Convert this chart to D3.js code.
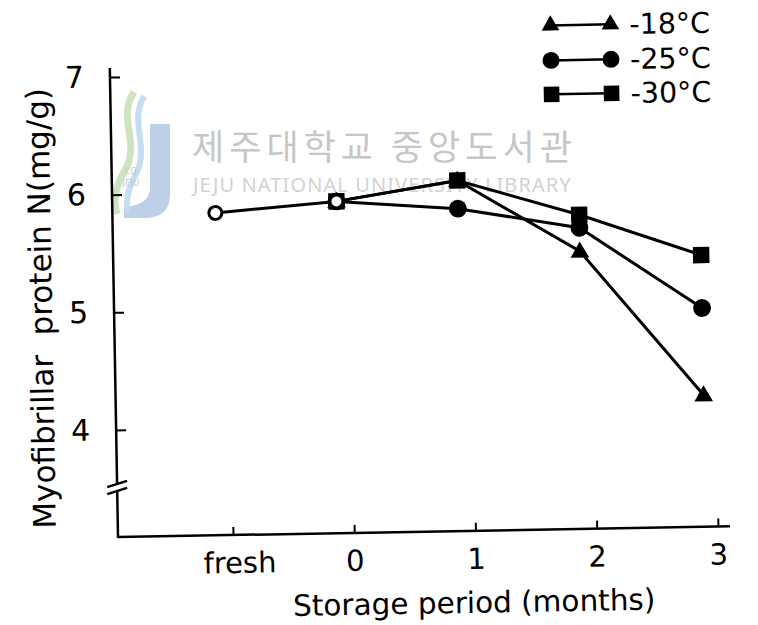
<!DOCTYPE html>
<html>
<head>
<meta charset="utf-8">
<script src="https://cdn.jsdelivr.net/npm/d3@7/dist/d3.min.js"></script>
<style>
  html, body { margin: 0; padding: 0; background: #fff; }
  svg { display: block; }
</style>
</head>
<body>
<svg id="chart" width="758" height="625"></svg>
<script>
// ---------------- data ----------------
const categories = ["fresh", "0", "1", "2", "3"];
const catPos = [-1, 0, 1, 2, 3];           // position on storage axis
const months = [0, 1, 2, 3];
const freshPos = [-1, 0];
const freshValues = [5.83, 5.91];           // open circles: fresh -> 0 month
const seriesNames = ["-18\u00B0C", "-25\u00B0C", "-30\u00B0C"];
const values18 = [5.91, 6.07, 5.45, 4.21];
const values25 = [5.91, 5.83, 5.65, 4.95];
const values30 = [5.91, 6.07, 5.76, 5.40];
const yTicks = [4, 5, 6, 7];
const yLabel = "Myofibrillar\u00A0\u00A0protein N(mg/g)";
const xLabel = "Storage period (months)";
const wmKorean = "제주대학교 중앙도서관";
const wmEnglish = "JEJU NATIONAL UNIVERSITY LIBRARY";

// ---------------- setup ----------------
const svg = d3.select("#chart");
const FONT = "'DejaVu Sans', sans-serif";

// watermark (behind everything, not rotated)
const wm = svg.append("g").attr("class", "watermark");
wm.append("path")
  .attr("d", "M150,124 L170,124 L170,194 Q170,218 144,218 L124,218 L124,207 Q150,205 150,188 Z")
  .attr("fill", "#b3c7e6").attr("opacity", 0.85);
wm.append("path")
  .attr("d", "M134,92 C116,120 142,142 124,172 C115,188 113,200 117,214")
  .attr("fill", "none").attr("stroke", "#c9e0b8").attr("stroke-width", 7).attr("opacity", 0.9);
wm.append("path")
  .attr("d", "M144,96 C128,124 152,148 134,178 C126,194 126,204 128,214")
  .attr("fill", "none").attr("stroke", "#bcdaf0").attr("stroke-width", 6).attr("opacity", 0.9);
wm.append("text").attr("x", 131).attr("y", 174).attr("font-family", "'Noto Sans', sans-serif")
  .attr("font-size", 9).attr("fill", "#c8c8c8").attr("text-anchor", "middle").text("CQ");
wm.append("text").attr("x", 131).attr("y", 186).attr("font-family", "'Noto Sans', sans-serif")
  .attr("font-size", 9).attr("fill", "#c8c8c8").attr("text-anchor", "middle").text("JEJU");
wm.append("text")
  .attr("x", 192).attr("y", 160)
  .attr("font-family", "'Noto Sans CJK KR', sans-serif")
  .attr("font-size", 35).attr("letter-spacing", 5).attr("fill", "#c6c6c6")
  .text(wmKorean);
wm.append("text")
  .attr("x", 193).attr("y", 192)
  .attr("font-family", "'Noto Sans', sans-serif")
  .attr("font-size", 20).attr("letter-spacing", 1.1).attr("fill", "#d2d2d2")
  .text(wmEnglish);

// chart group, slightly rotated like the scanned original
const g = svg.append("g").attr("transform", "rotate(-1, 118, 537)");

const x = d3.scaleLinear().domain([-1, 3]).range([221, 706]);
const y = d3.scaleLinear().domain([4, 7]).range([430, 77]);

const originX = 118, originY = 537;

// ---- x axis ----
const xAxis = d3.axisBottom(x)
  .tickValues(catPos)
  .tickFormat((d, i) => categories[i])
  .tickSize(-8)
  .tickPadding(0);
const gx = g.append("g")
  .attr("transform", `translate(12, ${originY})`)
  .call(xAxis);
gx.select(".domain").remove();
gx.selectAll(".tick line").attr("stroke", "#000").attr("stroke-width", 2);
gx.selectAll(".tick text")
  .attr("font-family", FONT).attr("font-size", 29).attr("fill", "#000")
  .attr("dy", null).attr("y", 38);
gx.selectAll(".tick text").filter((d, i) => i === 0).attr("x", 6);

g.append("line")
  .attr("x1", originX).attr("y1", originY).attr("x2", 730).attr("y2", originY)
  .attr("stroke", "#000").attr("stroke-width", 2.5);

// ---- y axis ----
const yAxis = d3.axisLeft(y)
  .tickValues(yTicks)
  .tickFormat(d3.format("d"))
  .tickSize(-10)
  .tickPadding(26);
const gy = g.append("g")
  .attr("transform", `translate(${originX}, 0)`)
  .call(yAxis);
gy.select(".domain").remove();
gy.selectAll(".tick line").attr("stroke", "#000").attr("stroke-width", 2);
gy.selectAll(".tick text")
  .attr("font-family", FONT).attr("font-size", 30).attr("fill", "#000");

// axis line with break
g.append("line")
  .attr("x1", originX).attr("y1", 68).attr("x2", originX).attr("y2", 484)
  .attr("stroke", "#000").attr("stroke-width", 2.5);
g.append("line")
  .attr("x1", originX).attr("y1", 491).attr("x2", originX).attr("y2", originY + 1)
  .attr("stroke", "#000").attr("stroke-width", 2.5);
[0, 7].forEach(off => {
  g.append("line")
    .attr("x1", 108).attr("y1", 487 + off).attr("x2", 128).attr("y2", 481 + off)
    .attr("stroke", "#000").attr("stroke-width", 2.5);
});

// ---- axis titles ----
g.append("text")
  .attr("x", 473).attr("y", 619)
  .attr("text-anchor", "middle")
  .attr("font-family", FONT).attr("font-size", 29.5).attr("fill", "#000")
  .text(xLabel);
g.append("text")
  .attr("transform", "translate(56, 307) rotate(-90)")
  .attr("text-anchor", "middle")
  .attr("font-family", FONT).attr("font-size", 31).attr("fill", "#000")
  .text(yLabel);

// ---- series ----
const line = d3.line().x(d => x(d[0])).y(d => y(d[1]));
const series = [
  { name: seriesNames[0], vals: values18, sym: d3.symbolTriangle, size: 150 },
  { name: seriesNames[1], vals: values25, sym: d3.symbolCircle, size: 250 },
  { name: seriesNames[2], vals: values30, sym: d3.symbolSquare, size: 270 }
];

series.forEach(s => {
  const pts = months.map((m, i) => [m, s.vals[i]]);
  g.append("path").attr("d", line(pts))
    .attr("fill", "none").attr("stroke", "#000").attr("stroke-width", 3);
});
series.forEach(s => {
  const pts = months.map((m, i) => [m, s.vals[i]]);
  g.selectAll(null).data(pts).enter().append("path")
    .attr("d", d3.symbol().type(s.sym).size(s.size))
    .attr("transform", d => `translate(${x(d[0])}, ${y(d[1]) + (s.sym === d3.symbolTriangle ? 1 : 0)})`)
    .attr("fill", "#000");
});

// fresh series (open circles)
const freshPts = freshPos.map((p, i) => [p, freshValues[i]]);
g.append("path").attr("d", line(freshPts))
  .attr("fill", "none").attr("stroke", "#000").attr("stroke-width", 3);
g.selectAll(null).data(freshPts).enter().append("circle")
  .attr("cx", d => x(d[0])).attr("cy", d => y(d[1])).attr("r", 6.5)
  .attr("fill", "#fff").attr("stroke", "#000").attr("stroke-width", 3);

// ---- legend ----
const legend = svg.append("g").attr("transform", "rotate(-1, 630, 60)");
const legendRows = [24, 59, 93];
series.forEach((s, i) => {
  const yy = legendRows[i];
  legend.append("line")
    .attr("x1", 551).attr("x2", 611).attr("y1", yy).attr("y2", yy)
    .attr("stroke", "#000").attr("stroke-width", 2.5);
  [551, 611].forEach(xx => {
    legend.append("path")
      .attr("d", d3.symbol().type(s.sym).size(s.size * 0.9))
      .attr("transform", `translate(${xx}, ${yy})`)
      .attr("fill", "#000");
  });
  legend.append("text")
    .attr("x", 630).attr("y", yy + 10)
    .attr("font-family", FONT).attr("font-size", 28.5).attr("fill", "#000")
    .text(s.name);
});
</script>
</body>
</html>
